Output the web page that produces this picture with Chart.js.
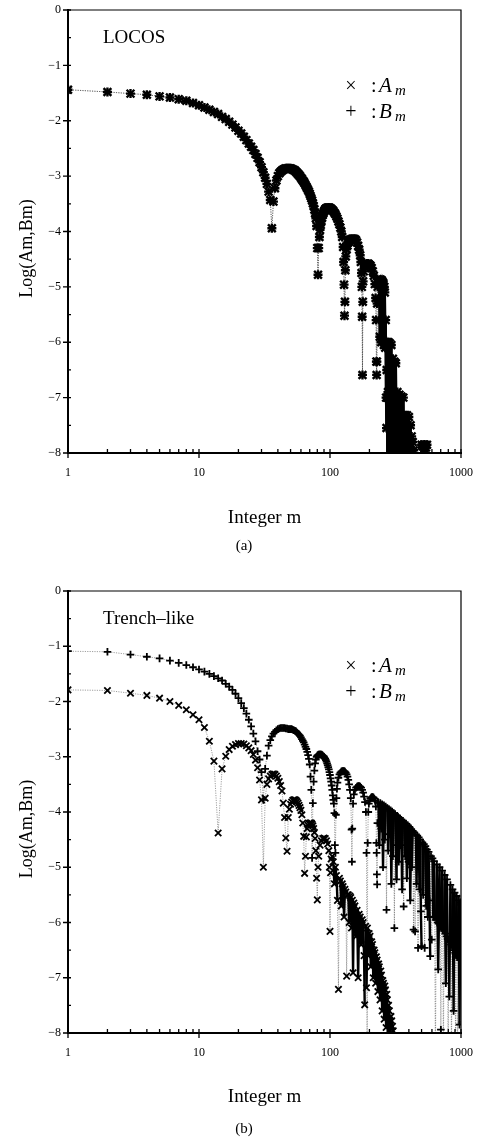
<!DOCTYPE html>
<html>
<head>
<meta charset="utf-8">
<script src="https://cdn.jsdelivr.net/npm/chart.js@4.4.1/dist/chart.umd.min.js"></script>
<style>
  body { margin: 0; background: #fff; }
  canvas { position: absolute; left: 0; }
  #top { top: 0; }
  #bottom { top: 575px; }
</style>
</head>
<body>
<canvas id="top" width="477" height="570"></canvas>
<canvas id="bottom" width="477" height="566"></canvas>
<script>
const serif = '"Liberation Serif", "Times New Roman", serif';

const xTicks = [1, 10, 100, 1000];
const yTicks = [0, -1, -2, -3, -4, -5, -6, -7, -8];

function range(a, b) {
  const out = [];
  for (let i = a; i <= b; i++) out.push(i);
  return out;
}

// (a) LOCOS : A_m and B_m fall on the same marks
const locosM = range(1, 100).concat([
  102,104,106,108,110,112,114,116,118,120,
  122,124,126,127,128,129,130,131,132,134,
  136,138,140,142,145,148,152,155,158,161,
  164,167,170,172,174,175,176,177,178,179,
  181,183,185,188,192,196,200,204,208,212,
  216,220,223,225,226,227,228,229,231,234,
  236,238,240,242,244,246,248,250,252,254,256,258,260,262,264,266,268,
  270,271,272,273,274,275,276,277,278,279,
  280,281,282,284,286,288,290,292,294,296,
  298,300,302,304,306,308,310,312,314,316,
  318,320,322,324,327,330,333,336,339,342,
  345,348,351,354,357,360,363,366,369,372,
  375,378,381,384,387,390,393,396,400,404,
  408,412,416,420,424,428,432,436,440,490,
  495,500,505,510,515,520,525,530,535,540,545,550,555,560
]);
const locosA = [
  -1.44,-1.48,-1.51,-1.53,-1.56,-1.58,-1.61,-1.64,-1.68,-1.72,
  -1.76,-1.80,-1.84,-1.88,-1.93,-1.97,-2.02,-2.07,-2.12,-2.18,
  -2.23,-2.29,-2.35,-2.41,-2.47,-2.53,-2.60,-2.67,-2.75,-2.84,
  -2.93,-3.03,-3.14,-3.28,-3.43,-3.94,-3.46,-3.22,-3.08,-3.00,
  -2.95,-2.92,-2.90,-2.88,-2.87,-2.86,-2.86,-2.86,-2.86,-2.86,
  -2.87,-2.88,-2.89,-2.90,-2.92,-2.94,-2.96,-2.98,-3.00,-3.03,
  -3.05,-3.08,-3.10,-3.13,-3.16,-3.19,-3.22,-3.25,-3.28,-3.32,
  -3.36,-3.40,-3.44,-3.49,-3.54,-3.60,-3.67,-3.76,-3.90,-4.30,
  -4.78,-4.30,-4.10,-3.97,-3.88,-3.81,-3.75,-3.70,-3.67,-3.64,
  -3.62,-3.60,-3.59,-3.58,-3.58,-3.57,-3.57,-3.57,-3.57,-3.58,
  -3.59,-3.61,-3.63,-3.66,-3.69,-3.73,-3.77,-3.82,-3.87,-3.93,
  -4.00,-4.10,-4.28,-4.55,-4.96,-5.52,-5.27,-4.70,-4.45,-4.32,
  -4.25,-4.20,-4.17,-4.15,-4.14,-4.13,-4.13,-4.14,-4.16,-4.20,
  -4.26,-4.33,-4.43,-4.55,-4.75,-5.00,-5.54,-6.59,-5.27,-4.90,
  -4.72,-4.64,-4.62,-4.60,-4.58,-4.58,-4.60,-4.62,-4.66,-4.72,
  -4.80,-4.95,-5.20,-5.60,-6.35,-6.59,-6.35,-5.30,-5.00,-4.92,
  -4.90,-4.88,-5.90,-4.87,-4.87,-6.00,-4.88,-4.90,-5.95,-4.92,-4.95,-6.05,-5.00,-5.10,-6.10,-5.60,-7.00,
  -7.55,-6.50,-6.00,-7.00,-8.20,-7.00,-6.00,-6.90,-8.20,-6.95,
  -6.00,-7.00,-8.20,-7.00,-6.02,-7.00,-8.20,-7.10,-6.05,-7.10,
  -8.20,-7.20,-6.30,-7.30,-8.20,-7.30,-6.35,-7.30,-8.20,-7.35,
  -6.38,-7.40,-8.20,-7.50,-6.90,-7.60,-8.20,-7.60,-6.95,-7.70,
  -8.20,-7.70,-6.98,-7.80,-8.20,-7.80,-7.00,-7.90,-8.20,-7.90,
  -7.32,-8.00,-8.20,-8.00,-7.32,-8.00,-8.20,-8.00,-7.35,-8.00,
  -8.20,-7.50,-8.20,-7.70,-8.20,-7.80,-8.20,-7.95,-8.60,-8.60,
  -8.20,-7.85,-8.20,-7.88,-8.20,-7.85,-8.20,-7.85,-8.20,-7.90,-8.20,-7.85,-8.20,-8.60
];
const locosB = locosA;

// (b) Trench-like : A_m
const trenchAM = range(1, 80).concat([
  81,82,84,86,88,90,92,94,96,98,
  99,100,101,102,
  104,106,108,110,112,114,116,118,120,122,
  124,126,128,130,132,134,136,138,140,142,
  144,146,148,150,152,155,158,161,164,167,
  170,173,176,179,182,184,187,190,193,196,
  199,202,205,208,211,214,217,220,223,226,
  229,232,235,238,241,244,247,250,253,256,
  259,262,265,268,271,274,277,280,284,288,
  292,296,300,304,310
]);
const trenchA = [
  -1.79,-1.80,-1.85,-1.89,-1.94,-2.00,-2.07,-2.15,-2.24,-2.33,
  -2.47,-2.72,-3.08,-4.38,-3.22,-2.99,-2.87,-2.81,-2.78,-2.76,
  -2.76,-2.77,-2.80,-2.84,-2.89,-2.96,-3.06,-3.20,-3.42,-3.78,
  -5.00,-3.75,-3.50,-3.40,-3.35,-3.32,-3.31,-3.32,-3.35,-3.39,
  -3.45,-3.52,-3.62,-3.84,-4.10,-4.47,-4.71,-4.10,-3.95,-3.86,
  -3.82,-3.79,-3.78,-3.78,-3.79,-3.81,-3.84,-3.88,-3.92,-3.97,
  -4.05,-4.20,-4.44,-5.11,-4.80,-4.45,-4.30,-4.24,-4.21,-4.20,
  -4.20,-4.20,-4.22,-4.25,-4.30,-4.37,-4.48,-4.70,-5.20,-5.59,
  -5.00,-4.80,-4.60,-4.52,-4.48,-4.47,-4.48,-4.52,-4.58,-4.70,
  -5.00,-6.16,-5.10,-4.85,
  -4.80,-4.90,-5.30,-5.00,-5.15,-5.60,-7.21,-5.20,-5.25,-5.70,
  -5.30,-5.35,-5.90,-5.40,-5.45,-6.97,-5.50,-5.50,-6.00,-5.52,
  -5.55,-6.10,-5.60,-6.91,-5.65,-5.70,-6.25,-5.78,-7.00,-5.85,
  -5.90,-6.40,-5.95,-6.00,-6.60,-7.49,-6.07,-7.18,-6.10,-6.60,
  -6.20,-6.25,-6.80,-6.35,-6.40,-7.00,-6.50,-6.55,-7.10,-6.62,
  -6.68,-7.25,-6.75,-6.80,-7.40,-6.88,-6.95,-7.60,-7.05,-7.10,
  -7.75,-7.15,-7.22,-7.90,-7.30,-7.40,-8.50,-7.50,-7.60,-8.50,
  -7.70,-7.78,-7.88,-7.96,-8.50
];

// (b) Trench-like : B_m
const trenchBM = range(1, 110).concat([
  111,112,113,114,116,118,120,122,124,126,
  128,130,132,134,136,138,140,142,144,146,
  147,148,150,152,155,158,161,164,167,170,
  173,176,179,182,185,188,190,192,194,196,
  198,200,203,206,209,212,215,218,221,224,
  226,227,228,229,230,232,
  234,238,242,246,250,254,258,262,266,270,
  274,278,282,286,290,294,298,302,306,310,
  314,318,322,326,330,335,340,345,350,355,
  360,365,370,375,380,386,392,398,404,410,
  416,422,428,434,440,446,452,458,464,470,
  476,482,488,494,500,507,514,521,528,535,
  542,550,558,566,574,582,590,598,606,614,
  622,630,638,646,654,662,670,678,686,694,
  702,710,718,726,734,742,750,758,766,774,
  782,790,798,806,814,822,830,838,846,854,
  862,870,878,886,894,902,910,918,926,934,
  942,950,958,966,974,982,990,1000
]);
const trenchB = [
  -1.09,-1.10,-1.15,-1.19,-1.22,-1.26,-1.30,-1.34,-1.38,-1.42,
  -1.46,-1.50,-1.54,-1.58,-1.62,-1.68,-1.73,-1.79,-1.86,-1.94,
  -2.03,-2.12,-2.22,-2.33,-2.45,-2.58,-2.72,-2.90,-3.05,-3.28,
  -3.78,-3.22,-2.98,-2.80,-2.70,-2.63,-2.58,-2.55,-2.52,-2.50,
  -2.49,-2.48,-2.48,-2.48,-2.48,-2.49,-2.49,-2.50,-2.50,-2.50,
  -2.50,-2.51,-2.52,-2.53,-2.54,-2.56,-2.58,-2.60,-2.62,-2.65,
  -2.68,-2.71,-2.74,-2.78,-2.82,-2.86,-2.91,-2.97,-3.04,-3.14,
  -3.36,-3.60,-4.83,-3.84,-3.45,-3.25,-3.12,-3.05,-3.00,-2.98,
  -2.97,-2.96,-2.96,-2.96,-2.96,-2.96,-2.97,-2.98,-2.99,-3.00,
  -3.02,-3.04,-3.06,-3.09,-3.12,-3.15,-3.19,-3.23,-3.28,-3.33,
  -3.39,-3.45,-3.52,-3.60,-3.70,-3.78,-3.85,-4.02,-4.60,-4.74,
  -4.05,-3.75,-3.58,-3.47,-3.38,-3.32,-3.29,-3.27,-3.26,-3.26,
  -3.26,-3.27,-3.29,-3.32,-3.36,-3.42,-3.50,-3.60,-3.75,-4.32,
  -4.90,-4.30,-3.85,-3.68,-3.60,-3.56,-3.54,-3.53,-3.53,-3.54,
  -3.56,-3.60,-3.65,-3.72,-3.82,-4.00,-4.74,-8.60,-4.56,-4.00,
  -3.85,-3.80,-3.76,-3.74,-3.73,-3.73,-3.74,-3.76,-3.80,-3.90,
  -4.56,-4.74,-5.13,-5.31,-4.20,-3.82,
  -3.83,-4.60,-3.84,-4.30,-3.86,-5.00,-3.88,-4.50,-3.90,-5.77,
  -3.93,-4.70,-3.95,-4.40,-3.97,-5.30,-3.99,-4.80,-4.02,-6.10,
  -4.04,-4.60,-5.22,-4.07,-4.09,-4.90,-4.11,-4.60,-4.14,-5.40,
  -4.16,-5.71,-4.19,-4.80,-4.21,-5.20,-4.24,-4.90,-4.27,-5.60,
  -4.31,-5.00,-4.34,-6.13,-4.37,-6.16,-4.41,-5.30,-4.43,-6.46,
  -4.46,-5.40,-4.50,-5.80,-6.43,-4.55,-5.50,-4.58,-6.46,-4.62,
  -5.70,-4.68,-5.90,-4.72,-5.60,-6.61,-4.80,-6.31,-4.84,-5.90,
  -4.89,-5.90,-8.60,-5.95,-4.95,-6.00,-6.85,-6.02,-5.00,-6.05,
  -7.94,-6.10,-5.06,-6.12,-8.60,-6.15,-5.14,-6.20,-7.10,-6.25,
  -5.22,-6.30,-8.60,-6.32,-7.34,-6.35,-5.32,-6.40,-8.60,-6.42,
  -5.40,-6.45,-7.60,-6.50,-5.46,-6.55,-8.60,-6.58,-5.52,-6.60,
  -8.60,-6.62,-5.60,-6.65,-7.85,-6.68,-5.64,-5.68
];

function pts(ms, vs) {
  return ms.map((m, i) => ({ x: m, y: vs[i] }));
}

// inside the crowded tail, short steps read as solid ink; long drops and
// the earlier dips stay dotted
function series(label, ms, vs, style, r, bw, tailFrom, reach) {
  const packed = c => ms[c.p0DataIndex] >= tailFrom && Math.abs(c.p1.y - c.p0.y) < reach;
  return {
    label: label,
    data: pts(ms, vs),
    showLine: true,
    borderColor: 'rgba(0,0,0,0.55)',
    borderWidth: 0.7,
    borderDash: [1.2, 1.2],
    tension: 0,
    segment: {
      borderDash: c => packed(c) ? [] : [1.2, 1.2],
      borderColor: c => packed(c) ? '#000' : 'rgba(0,0,0,0.55)',
      borderWidth: c => packed(c) ? 2.4 : 0.7
    },
    pointStyle: style,
    pointRadius: r,
    pointBorderColor: '#000',
    pointBackgroundColor: '#000',
    pointBorderWidth: bw
  };
}

// box, inward ticks and the labels inside the panel
const frame = {
  id: 'frame',
  afterDatasetsDraw(chart, args, o) {
    const ctx = chart.ctx;
    const a = chart.chartArea;
    const x = chart.scales.x, y = chart.scales.y;
    ctx.save();
    ctx.strokeStyle = '#000';
    ctx.lineWidth = 1.2;
    ctx.beginPath();
    ctx.moveTo(a.left, a.top);
    ctx.lineTo(a.right, a.top);
    ctx.lineTo(a.right, a.bottom);
    ctx.stroke();

    ctx.lineWidth = 1.3;
    ctx.beginPath();
    for (let v = 0; v >= -8; v -= 0.5) {
      const py = y.getPixelForValue(v);
      ctx.moveTo(a.left - (Number.isInteger(v) ? 5 : 0), py);
      ctx.lineTo(a.left + 3, py);
    }
    for (let d = 1; d <= 1000; d *= 10) {
      for (let k = 1; k <= (d === 1000 ? 1 : 9); k++) {
        const px = x.getPixelForValue(k * d);
        ctx.moveTo(px, a.bottom + (k === 1 ? 5 : 0));
        ctx.lineTo(px, a.bottom - 4);
      }
    }
    ctx.stroke();

    ctx.fillStyle = '#000';
    ctx.textBaseline = 'alphabetic';
    ctx.textAlign = 'left';
    ctx.font = '19px ' + serif;
    ctx.fillText(o.name, a.left + 35, a.top + 33);

    const rows = [['\u00d7', 'A'], ['+', 'B']];
    rows.forEach((r, i) => {
      const by = a.top + o.legendY + i * 26;
      ctx.textAlign = 'center';
      ctx.font = '20px ' + serif;
      ctx.fillText(r[0], 351, by);
      ctx.textAlign = 'left';
      ctx.fillText(':', 371, by);
      ctx.font = 'italic 21px ' + serif;
      ctx.fillText(r[1], 379, by);
      ctx.font = 'italic 15px ' + serif;
      ctx.fillText('m', 395, by + 3);
    });

    // y-axis title, sitting a little below the middle as in the print
    ctx.save();
    ctx.translate(27, (a.top + a.bottom) / 2 + 17);
    ctx.rotate(-Math.PI / 2);
    ctx.textAlign = 'center';
    ctx.textBaseline = 'middle';
    ctx.font = '18px ' + serif;
    ctx.fillText('Log(Am,Bm)', 0, 0);
    ctx.restore();

    ctx.textAlign = 'center';
    ctx.font = '15px ' + serif;
    ctx.fillText(o.tag, 244, o.tagY);
    ctx.restore();
  }
};

function makeChart(id, datasets, opts) {
  return new Chart(document.getElementById(id), {
    type: 'scatter',
    data: { datasets: datasets },
    plugins: [frame],
    options: {
      responsive: false,
      animation: false,
      events: [],
      layout: { padding: { left: 0, right: 16, top: opts.top, bottom: 0 } },
      plugins: {
        legend: { display: false },
        tooltip: { enabled: false },
        frame: opts
      },
      scales: {
        x: {
          type: 'logarithmic',
          min: 1,
          max: 1000,
          afterFit: s => { s.height = opts.xh; s.paddingLeft = 0; s.paddingRight = 0; },
          afterBuildTicks: s => { s.ticks = xTicks.map(v => ({ value: v })); },
          ticks: {
            autoSkip: false,
            maxRotation: 0,
            padding: 13,
            color: '#000',
            font: { family: serif, size: 12 },
            callback: v => String(v)
          },
          grid: { display: false, drawTicks: false },
          border: { display: true, color: '#000', width: 2 },
          title: {
            display: true,
            text: 'Integer m',
            color: '#000',
            font: { family: serif, size: 19 },
            padding: { top: 0, bottom: opts.titlePad }
          }
        },
        y: {
          min: -8,
          max: 0,
          afterFit: s => { s.width = 68; s.paddingTop = 0; s.paddingBottom = 0; },
          afterBuildTicks: s => { s.ticks = yTicks.map(v => ({ value: v })); },
          ticks: {
            padding: 7,
            color: '#000',
            font: { family: serif, size: 12 },
            callback: v => v === 0 ? '0' : '\u2212' + (-v)
          },
          grid: { display: false, drawTicks: false },
          border: { display: true, color: '#000', width: 2 }
        }
      }
    }
  });
}

makeChart('top', [
  series('Am', locosM, locosA, 'crossRot', 5.5, 2.4, 236, 130),
  series('Bm', locosM, locosB, 'cross', 4.5, 2.4, 236, 130)
], { top: 10, xh: 117, titlePad: 41, name: 'LOCOS', legendY: 82, tag: '(a)', tagY: 550 });

makeChart('bottom', [
  series('Am', trenchAM, trenchA, 'crossRot', 4.5, 1.8, 104, 75),
  series('Bm', trenchBM, trenchB, 'cross', 3.8, 1.8, 234, 75)
], { top: 16, xh: 108, titlePad: 33, name: 'Trench\u2013like', legendY: 81, tag: '(b)', tagY: 558 });
</script>
</body>
</html>
